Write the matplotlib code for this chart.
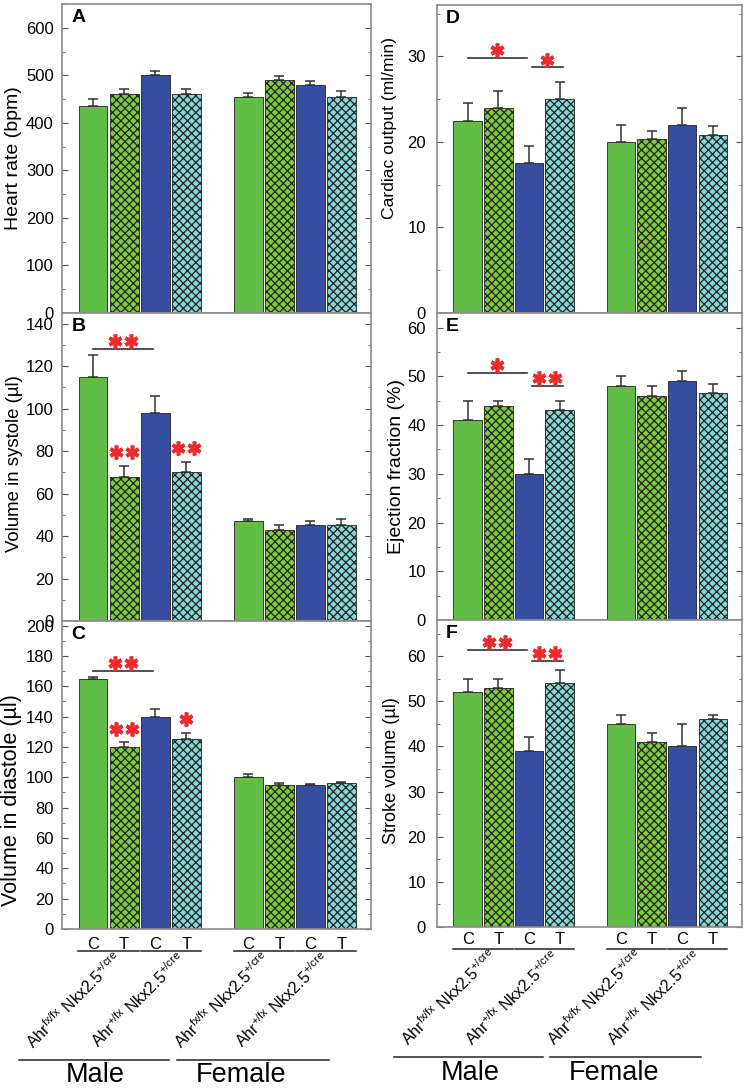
import numpy as np
import matplotlib
matplotlib.use('Agg')
import matplotlib.pyplot as plt
import matplotlib.transforms as mtransforms
from matplotlib.ticker import MultipleLocator

plt.rcParams['font.family'] = ['Liberation Sans', 'DejaVu Sans']
plt.rcParams['mathtext.default'] = 'regular'
plt.rcParams['hatch.linewidth'] = 0.9
plt.rcParams['ytick.labelsize'] = 12

# bar order in each sex: C, T for fx/fx then C, T for +/fx
treatments = ['C', 'T', 'C', 'T', 'C', 'T', 'C', 'T']
genotypes = [r'Ahr$^{fx/fx}$ Nkx2.5$^{+/cre}$', r'Ahr$^{+/fx}$ Nkx2.5$^{+/cre}$',
             r'Ahr$^{fx/fx}$ Nkx2.5$^{+/cre}$', r'Ahr$^{+/fx}$ Nkx2.5$^{+/cre}$']
sexes = ['Male', 'Female']

heart_rate = [435, 460, 500, 460, 455, 490, 480, 455]
heart_rate_err = [15, 12, 9, 12, 8, 9, 8, 12]
vol_systole = [115, 68, 98, 70, 47, 43, 45, 45]
vol_systole_err = [10, 5, 8, 5, 1, 2, 2, 3]
vol_diastole = [165, 120, 140, 125, 100, 95, 95, 96]
vol_diastole_err = [1, 3, 5, 4, 2, 1.5, 0.7, 1]
cardiac_output = [22.5, 24, 17.5, 25, 20, 20.3, 22, 20.8]
cardiac_output_err = [2, 2, 2, 2, 2, 1, 2, 1]
ejection_fraction = [41, 44, 30, 43, 48, 46, 49, 46.5]
ejection_fraction_err = [4, 1, 3, 2, 2, 2, 2, 2]
stroke_volume = [52, 53, 39, 54, 45, 41, 40, 46]
stroke_volume_err = [3, 2, 3, 3, 2, 2, 5, 1]

# significance: (bar from, bar to, line height, n stars)
sig_B = [(0, 2, 128, 2)]
sig_C = [(0, 2, 170, 2)]
sig_D = [(0, 2, 29.8, 1), (2, 3, 28.7, 1)]
sig_E = [(0, 2, 50.7, 1), (2, 3, 48, 2)]
sig_F = [(0, 2, 61.4, 2), (2, 3, 59, 2)]
# stars above single bars: (bar index, n stars)
star_B = [(1, 2), (3, 2)]
star_C = [(1, 2), (3, 1)]

colors = ['#62BD48', '#7CCB3A', '#374EA0', '#86D6D6'] * 2
hatches = [None, 'xxxx', None, 'xxxx'] * 2
x = np.array([0, 1, 2, 3, 5, 6, 7, 8])
RED = '#EE2B2B'

fig = plt.figure(figsize=(7.5, 10.89), dpi=100)


def stars(ax, xc, y, n):
    off = [0] if n == 1 else [-0.26, 0.26]
    for o in off:
        ax.plot(xc + o, y, marker=(6, 2, 0), markersize=10, mew=2.6,
                color=RED, clip_on=False, zorder=5)


def panel(rect, vals, errs, letter, ylabel, ymax, major, minor, ysize,
          labx, laby, tickpad, sig=(), bar_stars=()):
    ax = fig.add_axes(rect)
    for i in range(len(x)):
        ax.bar(x[i], vals[i], width=0.93, color=colors[i], hatch=hatches[i],
               edgecolor='#222222', linewidth=0.6, zorder=2)
    ax.errorbar(x, vals, yerr=[np.zeros(len(vals)), errs], fmt='none',
                ecolor='#333333', elinewidth=1.1, capsize=3.5, capthick=1.1, zorder=3)
    ax.set_xlim(-1.0, 8.95)
    ax.set_ylim(0, ymax)
    ax.yaxis.set_major_locator(MultipleLocator(major))
    ax.yaxis.set_minor_locator(MultipleLocator(minor))
    ax.set_xticks([])
    ax.tick_params(axis='y', which='both', direction='in', left=True, right=True,
                   colors='#555555', labelcolor='black', pad=tickpad)
    ax.tick_params(axis='y', which='major', length=4)
    ax.tick_params(axis='y', which='minor', length=2)
    for s in ax.spines.values():
        s.set_color('#8a8a8a')
        s.set_linewidth(1.2)
    ax.set_ylabel(ylabel, fontsize=ysize)
    ax.yaxis.set_label_coords(labx, laby)
    ax.text(0.03, 0.985, letter, transform=ax.transAxes, fontsize=14,
            fontweight='bold', ha='left', va='top')
    for b0, b1, h, n in sig:
        if b1 - b0 > 1:
            xa, xb = x[b0], x[b1] - 0.07
        else:
            xa, xb = x[b0] + 0.1, x[b1] + 0.1
        ax.plot([xa, xb], [h, h], color='#333333', lw=1.2, zorder=4)
        stars(ax, (xa + xb) / 2, h + 0.025 * ymax, n)
    for bi, n in bar_stars:
        stars(ax, x[bi], vals[bi] + errs[bi] + 0.045 * ymax, n)
    return ax


def bottom_labels(ax, ct_y, line_y):
    tr = mtransforms.blended_transform_factory(ax.transData, ax.transAxes)
    for xi, t in zip(x, treatments):
        ax.text(xi, ct_y, t, transform=tr, fontsize=12, ha='center', va='center')
    for k, g in enumerate(genotypes):
        i0 = 2 * k
        ax.plot([x[i0] - 0.47, x[i0 + 1] + 0.47], [line_y, line_y], transform=tr,
                color='#222222', lw=1.1, clip_on=False)
    for xl, g in zip([-0.6, 1.45, 4.15, 6.1], genotypes):
        ax.text(xl, -0.23, g, transform=tr, fontsize=11.5, rotation=45,
                ha='center', va='center')
    for (xa, xb), xc, s in zip([(-2.4, 2.45), (2.7, 7.6)], [0.07, 4.78], sexes):
        ax.plot([xa, xb], [-0.425, -0.425], transform=tr, color='#222222',
                lw=1.1, clip_on=False)
        ax.text(xc, -0.475, s, transform=tr, fontsize=19.5, ha='center', va='center')


lx, lw = 62 / 750, 309 / 750
rx, rw = 437 / 750, 305 / 750
H = 1089.0

panel([lx, (H - 313) / H, lw, 309 / H], heart_rate, heart_rate_err, 'A',
      'Heart rate (bpm)', 650, 100, 50, 14, -0.13, 0.5, 6)
panel([lx, (H - 621) / H, lw, 308 / H], vol_systole, vol_systole_err, 'B',
      'Volume in systole (\u00b5l)', 145, 20, 10, 13.4, -0.125, 0.51, 6,
      sig_B, star_B)
axC = panel([lx, (H - 929) / H, lw, 308 / H], vol_diastole, vol_diastole_err, 'C',
            'Volume in diastole (\u00b5l)', 203, 20, 10, 15.5, -0.13, 0.42, 6,
            sig_C, star_C)
panel([rx, (H - 313) / H, rw, 308 / H], cardiac_output, cardiac_output_err, 'D',
      'Cardiac output (ml/min)', 36, 10, 5, 12.6, -0.13, 0.6, 8, sig_D)
panel([rx, (H - 620) / H, rw, 307 / H], ejection_fraction, ejection_fraction_err, 'E',
      'Ejection fraction (%)', 63, 10, 5, 14, -0.105, 0.5, 8, sig_E)
axF = panel([rx, (H - 927) / H, rw, 307 / H], stroke_volume, stroke_volume_err, 'F',
            'Stroke volume (\u00b5l)', 68, 10, 5, 13, -0.12, 0.51, 8, sig_F)

bottom_labels(axC, -0.05, -0.071)
bottom_labels(axF, -0.04, -0.072)

fig.savefig('out.png', dpi=100)
